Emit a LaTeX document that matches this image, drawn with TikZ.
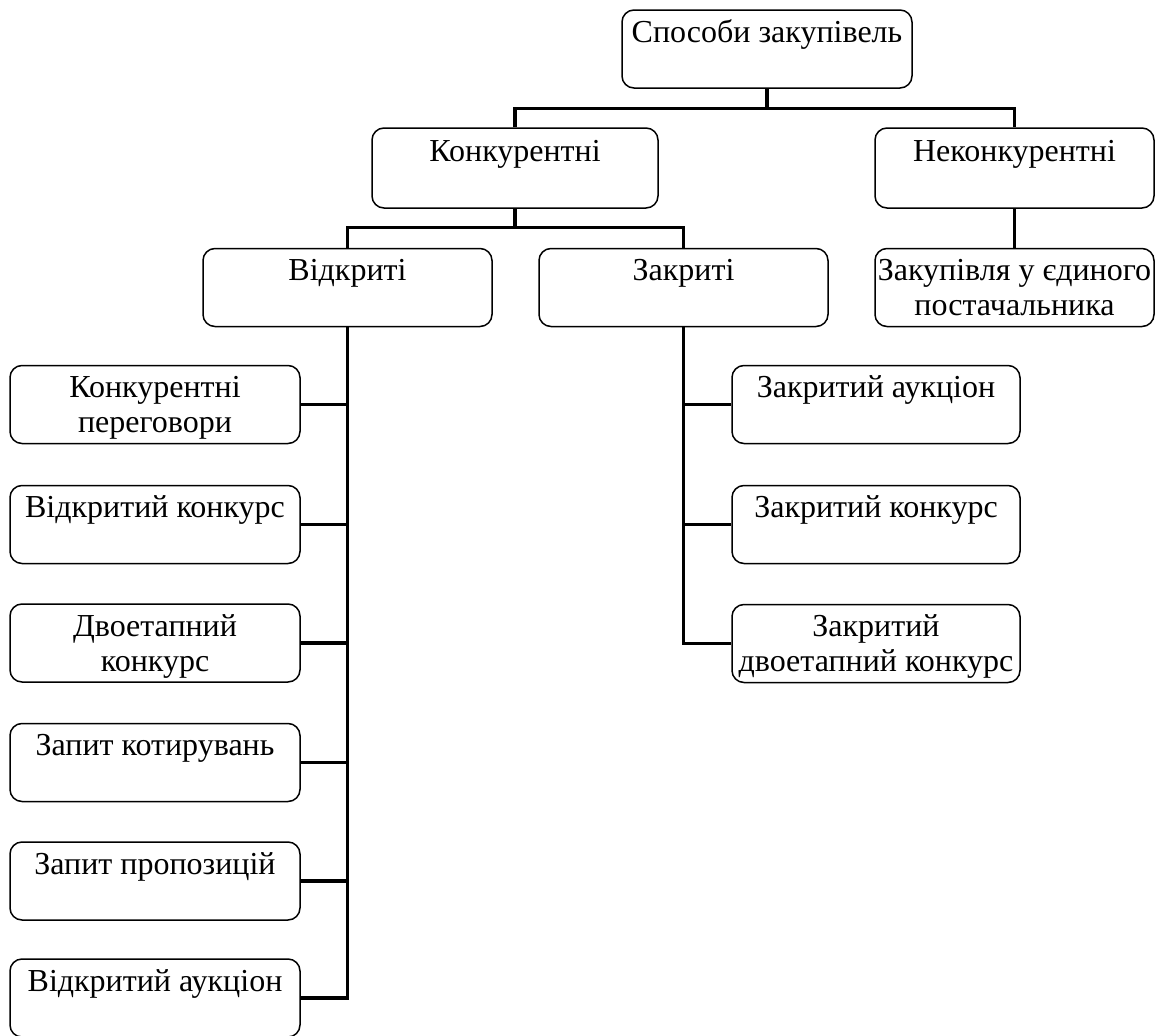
\documentclass[tikz,border=0pt]{standalone}
\usepackage{fontspec}
\setmainfont{Liberation Serif}
\newcommand{\tp}{\rule{0pt}{32pt}}
\newcommand{\bt}{\rule[-10.5pt]{0pt}{10.5pt}}
\begin{document}
\begin{tikzpicture}[x=1pt,y=-1pt,
  box/.style={draw, rounded corners=12pt, line width=1.5pt, align=center, inner sep=0pt,
    minimum height=78pt, font=\fontsize{32}{35}\selectfont},
  conn/.style={line width=3.2pt, line join=miter}]
\useasboundingbox (0,0) rectangle (1157,1036);
\node[box, minimum width=290pt] (top) at (767,49) {\tp Способи закупівель\\\bt};
\node[box, minimum width=286pt, minimum height=80pt] (konk) at (515,168) {\tp Конкурентні\\\bt};
\node[box, minimum width=279pt, minimum height=80pt] (nekonk) at (1014.5,168) {\tp Неконкурентні\\\bt};
\node[box, minimum width=279pt] (zakup) at (1014.5,287.5) {\tp Закупівля у єдиного\\постачальника\bt};
\node[box, minimum width=289pt] (vidkr) at (347.5,287.5) {\tp Відкриті\\\bt};
\node[box, minimum width=289pt] (zakr) at (683.5,287.5) {\tp Закриті\\\bt};
\node[box, minimum width=290pt] (L1) at (155,404.5) {\tp Конкурентні\\переговори\bt};
\node[box, minimum width=290pt] (L2) at (155,524.5) {\tp Відкритий конкурс\\\bt};
\node[box, minimum width=290pt] (L3) at (155,643) {\tp Двоетапний\\конкурс\bt};
\node[box, minimum width=290pt] (L4) at (155,762.5) {\tp Запит котирувань\\\bt};
\node[box, minimum width=290pt] (L5) at (155,881) {\tp Запит пропозицій\\\bt};
\node[box, minimum width=290pt] (L6) at (155,998) {\tp Відкритий аукціон\\\bt};
\node[box, minimum width=288pt] (R1) at (876,404.5) {\tp Закритий аукціон\\\bt};
\node[box, minimum width=288pt] (R2) at (876,524.5) {\tp Закритий конкурс\\\bt};
\node[box, minimum width=288pt] (R3) at (876,643.5) {\tp Закритий\\двоетапний конкурс\bt};
% connectors
\draw[conn] (top.south) -- ++(0,20) coordinate (j1);
\draw[conn] (konk.north) |- (j1) -| (nekonk.north);
\draw[conn] (konk.south) -- ++(0,19) coordinate (j2);
\draw[conn] (vidkr.north) |- (j2) -| (zakr.north);
\draw[conn] (nekonk.south) -- (zakup.north);
\draw[conn] (vidkr.south) |- (L6.east);
\foreach \n in {L1,L2,L3,L4,L5} \draw[conn] (\n.east) -- (\n.east -| vidkr.south);
\draw[conn] (zakr.south) |- (R3.west);
\foreach \n in {R1,R2} \draw[conn] (\n.west) -- (\n.west -| zakr.south);
\end{tikzpicture}
\end{document}
